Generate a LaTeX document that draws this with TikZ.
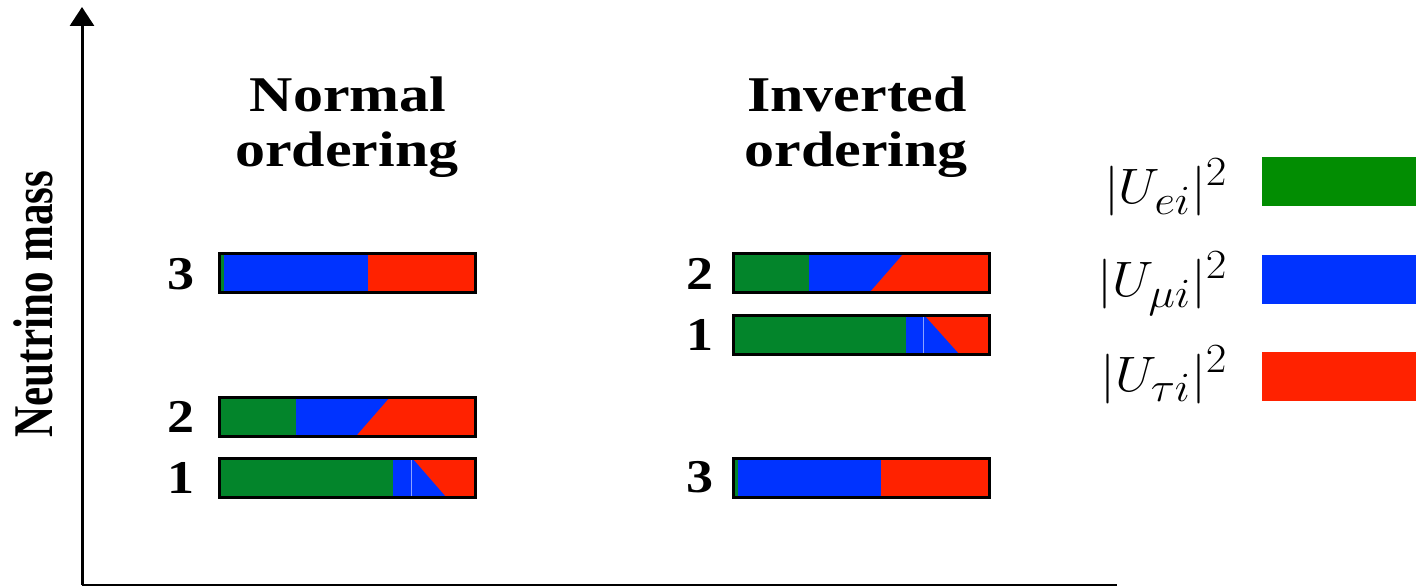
\documentclass[tikz,border=0pt]{standalone}
\usepackage{fontspec}
\setmainfont{Liberation Serif}
\usetikzlibrary{arrows.meta}
\definecolor{bgreen}{HTML}{03852B}
\definecolor{lgreen}{HTML}{028D02}
\definecolor{nblue}{HTML}{0033FF}
\definecolor{nred}{HTML}{FF2200}
\newcommand{\wide}[1]{\scalebox{1.2}[1]{#1}}
\tikzset{
  barframe/.style={draw=black, line width=1.5pt},
  faint/.style={draw=nblue!45!white, line width=0.5pt},
  titletxt/.style={font=\bfseries\fontsize{25}{30}\selectfont, anchor=base, inner sep=0pt},
  numtxt/.style={font=\bfseries\fontsize{23.5}{28}\selectfont, inner sep=0pt},
  legtxt/.style={font=\fontsize{28}{34}\selectfont, anchor=base east, inner sep=0pt},
  axistxt/.style={font=\bfseries\fontsize{28}{34}\selectfont, inner sep=0pt, rotate=90}
}
\begin{document}
\begin{tikzpicture}[x=0.5pt,y=-0.5pt]
\useasboundingbox (0,0) rectangle (1416,587);
% axes
\coordinate (origin) at (82,585);
\coordinate (ytip) at (82,7);
\coordinate (xend) at (1117,585);
\draw[line width=1.5pt, -{Triangle[width=12pt,length=9.5pt]}] (origin) -- (ytip);
\draw[line width=1pt] (origin) -- (xend);
\node[axistxt] (ylab) at (33,304) {\scalebox{0.77}[1]{Neutrino mass}};

% titles
\node[titletxt] (nt1) at (348,112) {\wide{Normal}};
\node[titletxt] (nt2) at (347,167) {\wide{ordering}};
\node[titletxt] (it1) at (857,112) {\wide{Inverted}};
\node[titletxt] (it2) at (856,167) {\wide{ordering}};

% ---- Normal ordering ----
% 3
\fill[bgreen] (219,254) rectangle (224,293);
\fill[nblue] (224,254) rectangle (368,293);
\fill[nred] (368,254) rectangle (475,293);
\draw[barframe] (219,254) rectangle (475,293);
% 2
\fill[bgreen] (219,397) rectangle (296,436);
\fill[nred] (296,397) rectangle (475,436);
\fill[nblue] (296,397) -- (390,397) -- (356,436) -- (296,436) -- cycle;
\draw[barframe] (219,397) rectangle (475,436);
% 1
\fill[bgreen] (219,458) rectangle (393,497);
\fill[nred] (393,458) rectangle (475,497);
\fill[nblue] (393,458) -- (412,458) -- (446,497) -- (393,497) -- cycle;
\draw[faint] (411.5,458) -- (411.5,497);
\draw[barframe] (219,458) rectangle (475,497);
\node[numtxt] (nl3) at (181,274) {\scalebox{1.15}[1]{3}};
\node[numtxt] (nl2) at (181,416.5) {\scalebox{1.15}[1]{2}};
\node[numtxt] (nl1) at (181,477.5) {\scalebox{1.15}[1]{1}};

% ---- Inverted ordering ----
% 2
\fill[bgreen] (733,254) rectangle (809,293);
\fill[nred] (809,254) rectangle (989,293);
\fill[nblue] (809,254) -- (903,254) -- (869,293) -- (809,293) -- cycle;
\draw[barframe] (733,254) rectangle (989,293);
% 1
\fill[bgreen] (733,315) rectangle (906,354);
\fill[nred] (906,315) rectangle (989,354);
\fill[nblue] (906,315) -- (924,315) -- (959,354) -- (906,354) -- cycle;
\draw[faint] (923.5,315) -- (923.5,354);
\draw[barframe] (733,315) rectangle (989,354);
% 3
\fill[bgreen] (733,458) rectangle (738,497);
\fill[nblue] (738,458) rectangle (881,497);
\fill[nred] (881,458) rectangle (989,497);
\draw[barframe] (733,458) rectangle (989,497);
\node[numtxt] (il2) at (700,274) {\scalebox{1.15}[1]{2}};
\node[numtxt] (il1) at (700,334.5) {\scalebox{1.15}[1]{1}};
\node[numtxt] (il3) at (700,477.5) {\scalebox{1.15}[1]{3}};

% ---- legend ----
\fill[lgreen] (1262,157) rectangle (1416,206);
\fill[nblue] (1262,255) rectangle (1416,304);
\fill[nred] (1262,352) rectangle (1416,401);
\node[legtxt] (le) at (1228,204) {\scalebox{1.08}[1]{$|U_{ei}|^2$}};
\node[legtxt] (lm) at (1228,297) {\scalebox{1.08}[1]{$|U_{\mu i}|^2$}};
\node[legtxt] (lt) at (1228,391) {\scalebox{1.08}[1]{$|U_{\tau i}|^2$}};
\end{tikzpicture}
\end{document}
